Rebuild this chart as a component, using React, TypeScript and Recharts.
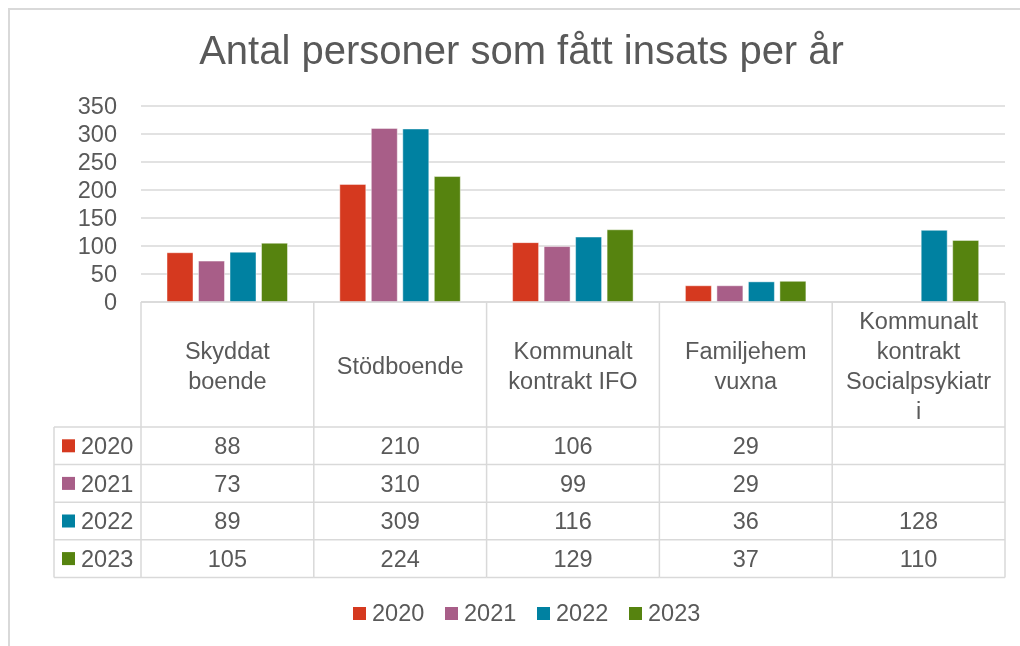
import React from "react";
import { BarChart, Bar, XAxis, YAxis, CartesianGrid } from "recharts";

const categories = [
  "Skyddat boende",
  "Stödboende",
  "Kommunalt kontrakt IFO",
  "Familjehem vuxna",
  "Kommunalt kontrakt Socialpsykiatri",
];
const headerLines = [
  ["Skyddat", "boende"],
  ["Stödboende"],
  ["Kommunalt", "kontrakt IFO"],
  ["Familjehem", "vuxna"],
  ["Kommunalt", "kontrakt", "Socialpsykiatr", "i"],
];
const years = ["2020", "2021", "2022", "2023"];
const colors = ["#D5391F", "#A85E88", "#0081A1", "#56830F"];
const v2020 = [88, 210, 106, 29, null];
const v2021 = [73, 310, 99, 29, null];
const v2022 = [89, 309, 116, 36, 128];
const v2023 = [105, 224, 129, 37, 110];
const yTicks = [0, 50, 100, 150, 200, 250, 300, 350];
const title = "Antal personer som fått insats per år";

const series = [v2020, v2021, v2022, v2023];
const data = categories.map((c, i) => {
  const row: any = { name: c };
  years.forEach((y, k) => {
    row["y" + y] = series[k][i];
  });
  return row;
});

const FONT = '"Liberation Sans", Arial, sans-serif';
const TEXT = "#595959";
const LINE = "#d9d9d9";
const W = 1004;
const H = 630;
const M_TOP = 98;
const M_RIGHT = 7;
const M_BOTTOM = 60;
const Y_W = 133;
const X_H = 276;
const PLOT_LEFT = Y_W;
const PLOT_RIGHT = W - M_RIGHT;
const PLOT_BOTTOM = H - M_BOTTOM - X_H;
const COL_W = (PLOT_RIGHT - PLOT_LEFT) / categories.length;
const HEADER_H = 125;
const ROW_H = 37.6;
const TABLE_BOTTOM = PLOT_BOTTOM + HEADER_H + ROW_H * years.length;
const LEG_LEFT = 46;
const FS = 23.5;

const TableTick = (props: any) => {
  const { x, payload } = props;
  const i = payload && payload.index != null ? payload.index : props.index;
  const l = x - COL_W / 2;
  const r = x + COL_W / 2;
  const rowTop = PLOT_BOTTOM + HEADER_H;
  const lines = headerLines[i] || [];
  const hc = PLOT_BOTTOM + HEADER_H / 2 + 1;
  const els: any[] = [];
  els.push(<line key="vl" x1={l} x2={l} y1={PLOT_BOTTOM} y2={TABLE_BOTTOM} stroke={LINE} strokeWidth={1.5} />);
  if (i === categories.length - 1) {
    els.push(<line key="vr" x1={r} x2={r} y1={PLOT_BOTTOM} y2={TABLE_BOTTOM} stroke={LINE} strokeWidth={1.5} />);
  }
  for (let k = 0; k <= years.length; k++) {
    const yy = rowTop + k * ROW_H;
    els.push(<line key={"h" + k} x1={l} x2={r} y1={yy} y2={yy} stroke={LINE} strokeWidth={1.5} />);
  }
  lines.forEach((t, j) => {
    const yy = hc + (j - (lines.length - 1) / 2) * 30;
    els.push(
      <text key={"t" + j} x={x} y={yy} dy="0.35em" textAnchor="middle" fill={TEXT} fontSize={FS} fontFamily={FONT}>
        {t}
      </text>
    );
  });
  years.forEach((yr, k) => {
    const v = series[k][i];
    if (v != null) {
      els.push(
        <text key={"v" + k} x={x} y={rowTop + (k + 0.5) * ROW_H} dy="0.35em" textAnchor="middle" fill={TEXT} fontSize={FS} fontFamily={FONT}>
          {v}
        </text>
      );
    }
  });
  if (i === 0) {
    els.push(<line key="lv" x1={LEG_LEFT} x2={LEG_LEFT} y1={rowTop} y2={TABLE_BOTTOM} stroke={LINE} strokeWidth={1.5} />);
    years.forEach((yr, k) => {
      const cy = rowTop + (k + 0.5) * ROW_H;
      els.push(<rect key={"ls" + k} x={LEG_LEFT + 8} y={cy - 6.5} width={13} height={13} fill={colors[k]} />);
      els.push(
        <text key={"lt" + k} x={LEG_LEFT + 27} y={cy} dy="0.35em" fill={TEXT} fontSize={FS} fontFamily={FONT}>
          {yr}
        </text>
      );
    });
    for (let k = 0; k <= years.length; k++) {
      const yy = rowTop + k * ROW_H;
      els.push(<line key={"lh" + k} x1={LEG_LEFT} x2={l} y1={yy} y2={yy} stroke={LINE} strokeWidth={1.5} />);
    }
  }
  return <g>{els}</g>;
};

export default function App() {
  return (
    <div style={{ position: "relative", width: W, height: H, overflow: "hidden", background: "#fff" }}>
      <div
        style={{
          position: "fixed",
          left: 8,
          top: 8,
          width: 1100,
          height: 700,
          borderTop: `2px solid ${LINE}`,
          borderLeft: `2px solid ${LINE}`,
          boxSizing: "border-box",
          pointerEvents: "none",
        }}
      />
      <div
        style={{
          position: "absolute",
          left: 13.5,
          top: 22.4,
          width: 1000,
          textAlign: "center",
          fontFamily: FONT,
          fontSize: 40,
          lineHeight: "40px",
          color: TEXT,
          whiteSpace: "nowrap",
        }}
      >
        {title}
      </div>
      <div style={{ position: "absolute", left: 0, top: 0 }}>
        <BarChart
          width={W}
          height={H}
          data={data}
          margin={{ top: M_TOP, right: M_RIGHT, bottom: M_BOTTOM, left: 0 }}
          barSize={26}
          barGap={5.5}
        >
          <CartesianGrid vertical={false} stroke={LINE} strokeWidth={1.5} />
          <YAxis
            width={Y_W}
            domain={[0, 350]}
            ticks={yTicks}
            interval={0}
            axisLine={false}
            tickLine={false}
            tickSize={0}
            tickMargin={24}
            tick={{ fill: TEXT, fontSize: FS, fontFamily: FONT }}
          />
          <XAxis
            dataKey="name"
            height={X_H}
            interval={0}
            tickLine={false}
            axisLine={{ stroke: LINE, strokeWidth: 1.5 }}
            tick={<TableTick />}
          />
          {years.map((y, k) => (
            <Bar
              key={y}
              dataKey={"y" + y}
              name={y}
              fill={colors[k]}
              stroke="rgba(255,255,255,0.45)"
              strokeWidth={1}
              isAnimationActive={false}
            />
          ))}
        </BarChart>
      </div>
      <div style={{ position: "absolute", left: 345, top: 599, display: "flex" }}>
        {years.map((y, k) => (
          <div key={y} style={{ width: 92, display: "flex", alignItems: "center", height: 13 }}>
            <div style={{ width: 13, height: 13, background: colors[k], marginRight: 6, flex: "none" }} />
            <span style={{ fontFamily: FONT, fontSize: FS, color: TEXT, lineHeight: "13px", whiteSpace: "nowrap" }}>{y}</span>
          </div>
        ))}
      </div>
    </div>
  );
}
